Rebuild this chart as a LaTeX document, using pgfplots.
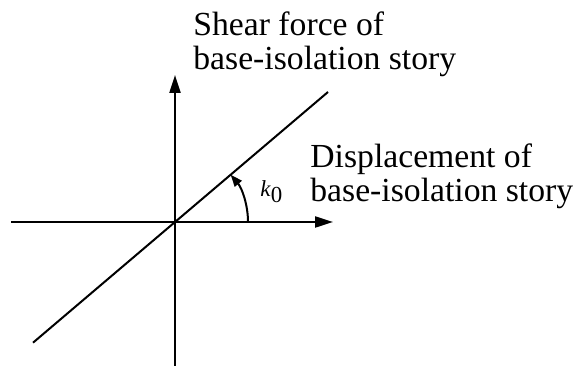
\documentclass[border=0pt]{standalone}
\usepackage{pgfplots}
\pgfplotsset{compat=1.18}
\usepackage{fontspec}
\setmainfont{Liberation Serif}
\usetikzlibrary{arrows.meta}
\begin{document}
\begin{tikzpicture}
\begin{axis}[
  width=291bp, height=185.5bp, scale only axis,
  xmin=0, xmax=582, ymin=0, ymax=371,
  hide axis, clip=false, anchor=south west, at={(0,0)},
]
% horizontal axis (displacement)
\addplot[black, line width=1.1bp, -{Triangle[length=9bp,width=5.5bp]}] coordinates {(11,149) (333,149)};
% vertical axis (shear force)
\addplot[black, line width=1.1bp, -{Triangle[length=9bp,width=5.5bp]}] coordinates {(175,5) (175,296)};
% stiffness line
\addplot[black, line width=1bp] coordinates {(33,28.3) (328,279)};
% angle arc
\draw[black, line width=1bp, -{Triangle[length=6bp,width=4.5bp]}] (axis cs:248,149) arc[start angle=0, end angle=40.4, radius=36.5bp];
\node[anchor=base west, inner sep=0pt, font=\fontsize{11.5}{11.5}\selectfont] at (axis cs:260,174) {\textit{k}\raisebox{-3bp}{0}};
\node[anchor=base west, inner sep=0pt, align=left, font=\fontsize{16.9}{17.25}\selectfont] at (axis cs:193,301) {Shear force of\\base-isolation story};
\node[anchor=base west, inner sep=0pt, align=left, font=\fontsize{16.9}{17.25}\selectfont] at (axis cs:310,169) {Displacement of\\base-isolation story};
\end{axis}
\pgfresetboundingbox
\path[use as bounding box] (0,0) rectangle (291bp,185.5bp);
\end{tikzpicture}
\end{document}
